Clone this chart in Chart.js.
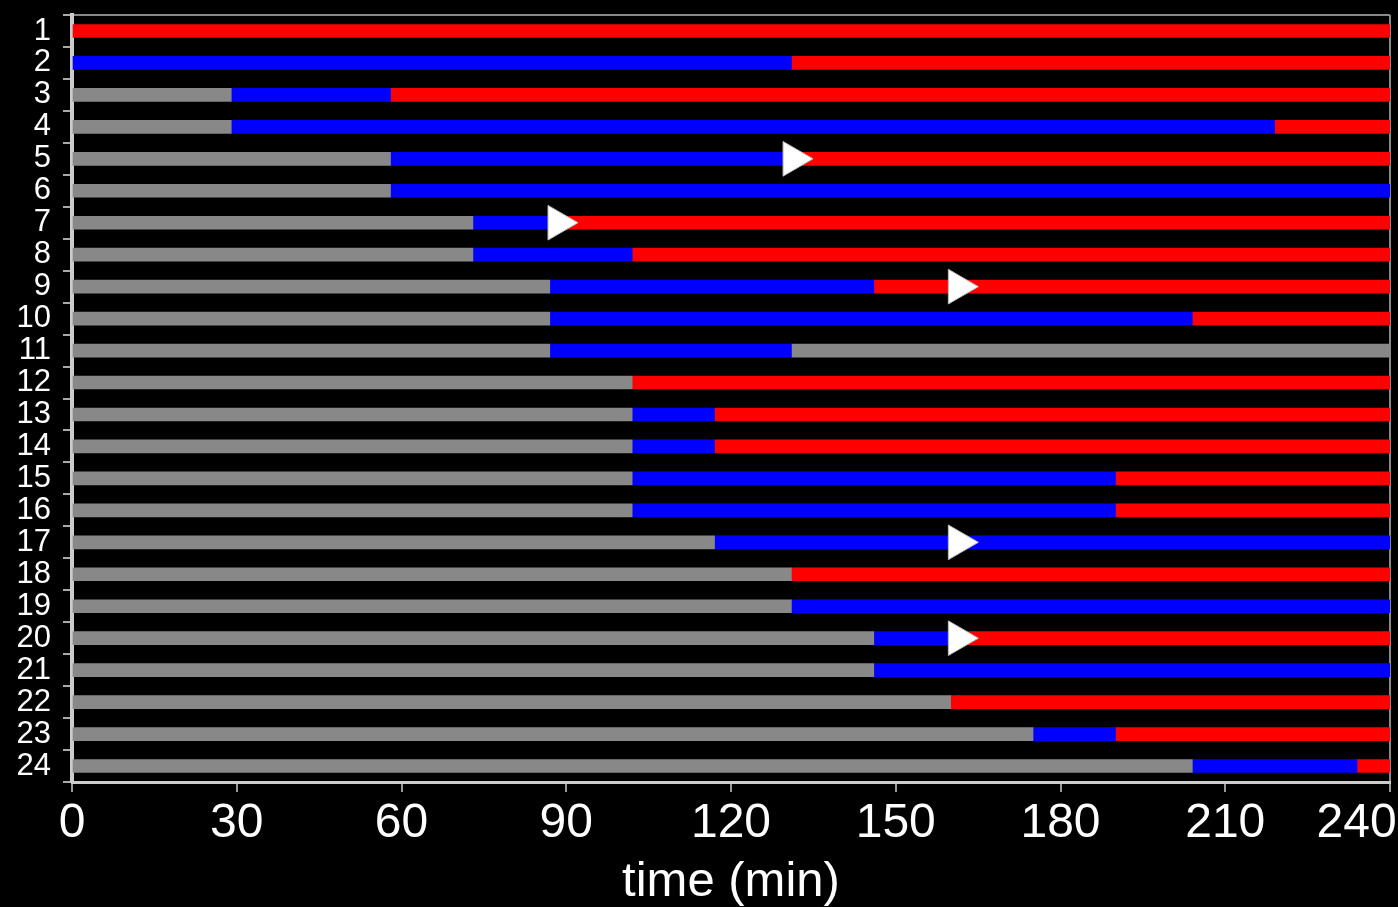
<!DOCTYPE html>
<html>
<head>
<meta charset="utf-8">
<script src="https://cdn.jsdelivr.net/npm/chart.js@4/dist/chart.umd.min.js"></script>
<style>
  html, body { margin: 0; padding: 0; background: #000; }
  #wrap { width: 1398px; height: 907px; }
</style>
</head>
<body>
<div id="wrap"><canvas id="timeline"></canvas></div>
<script>
const rows = ["1", "2", "3", "4", "5", "6", "7", "8", "9", "10", "11", "12",
              "13", "14", "15", "16", "17", "18", "19", "20", "21", "22", "23", "24"];
// end of the grey phase, end of the blue phase (minutes)
const grayEnd = [0, 0, 29, 29, 58, 58, 73, 73, 87, 87, 87, 102,
                 102, 102, 102, 102, 117, 131, 131, 146, 146, 160, 175, 204];
const blueEnd = [0, 131, 58, 219, 131, 240, 87, 102, 146, 204, 131, 102,
                 117, 117, 190, 190, 240, 131, 240, 160, 240, 160, 190, 234];
// what follows the blue phase up to the end of the record
const tailState = ["red", "red", "red", "red", "red", "red", "red", "red", "red", "red", "gray", "red",
                   "red", "red", "red", "red", "red", "red", "red", "red", "red", "red", "red", "red"];
const endTime = 240;
const xTicks = [0, 30, 60, 90, 120, 150, 180, 210, 240];
const markerRows = ["5", "7", "9", "17", "20"];
const markerTimes = [131.3, 88.5, 161.4, 161.4, 161.4];

const GRAY = "#888888", BLUE = "#0000ff", RED = "#ff0000";

const seg = (a, b) => (b > a ? [a, b] : null);
const grayData = rows.map((r, i) => seg(0, grayEnd[i]));
const blueData = rows.map((r, i) => seg(grayEnd[i], blueEnd[i]));
const redData = rows.map((r, i) => tailState[i] === "red" ? seg(blueEnd[i], endTime) : null);
const grayTail = rows.map((r, i) => tailState[i] === "gray" ? seg(blueEnd[i], endTime) : null);

const bar = (data, color) => ({
  type: "bar", data: data, backgroundColor: color, borderWidth: 0,
  barThickness: 13, grouped: false, order: 1
});

const ctx = document.getElementById("timeline").getContext("2d");
new Chart(ctx, {
  data: {
    labels: rows,
    datasets: [
      bar(grayData, GRAY),
      bar(blueData, BLUE),
      bar(redData, RED),
      bar(grayTail, GRAY),
      {
        type: "scatter",
        order: 0,
        data: markerRows.map((r, i) => ({ x: markerTimes[i], y: r })),
        pointStyle: "triangle",
        rotation: 90,
        radius: 20,
        backgroundColor: "#ffffff",
        borderColor: "#bbbbbb",
        borderWidth: 1
      }
    ]
  },
  options: {
    indexAxis: "y",
    responsive: true,
    maintainAspectRatio: false,
    animation: false,
    layout: { autoPadding: false, padding: { top: 15, right: 8 } },
    plugins: { legend: { display: false }, tooltip: { enabled: false } },
    scales: {
      x: {
        type: "linear",
        min: 0,
        max: endTime,
        afterBuildTicks: (s) => { s.ticks = xTicks.map(v => ({ value: v })); },
        afterFit: (s) => { s.height = 125; s.paddingLeft = 0; s.paddingRight = 0; },
        border: { color: "#cccccc", width: 3 },
        grid: {
          color: (c) => (c.tick && c.tick.value === endTime ? "#888888" : "rgba(0,0,0,0)"),
          lineWidth: 2,
          tickColor: "#999999",
          tickLength: 10
        },
        ticks: {
          color: "#ffffff",
          font: { family: "Liberation Sans, Arial", size: 48 },
          padding: 3,
          maxRotation: 0,
          autoSkip: false,
          callback: (v) => (v === endTime ? v + "\u00a0\u00a0\u00a0\u00a0\u00a0" : String(v))
        },
        title: {
          display: true,
          text: "time (min)",
          color: "#ffffff",
          font: { family: "Liberation Sans, Arial", size: 49 },
          padding: { top: 0, bottom: -5 }
        }
      },
      y: {
        type: "category",
        afterFit: (s) => { s.width = 72; s.paddingTop = 0; s.paddingBottom = 0; },
        border: { color: "#cccccc", width: 4 },
        grid: {
          offset: true,
          color: (c) => (c.index === 0 ? "#888888" : "rgba(0,0,0,0)"),
          lineWidth: 2,
          tickColor: "#aaaaaa",
          tickLength: 9
        },
        ticks: {
          color: "#ffffff",
          font: { family: "Liberation Sans, Arial", size: 31 },
          padding: 12,
          autoSkip: false
        }
      }
    }
  }
});
</script>
</body>
</html>
